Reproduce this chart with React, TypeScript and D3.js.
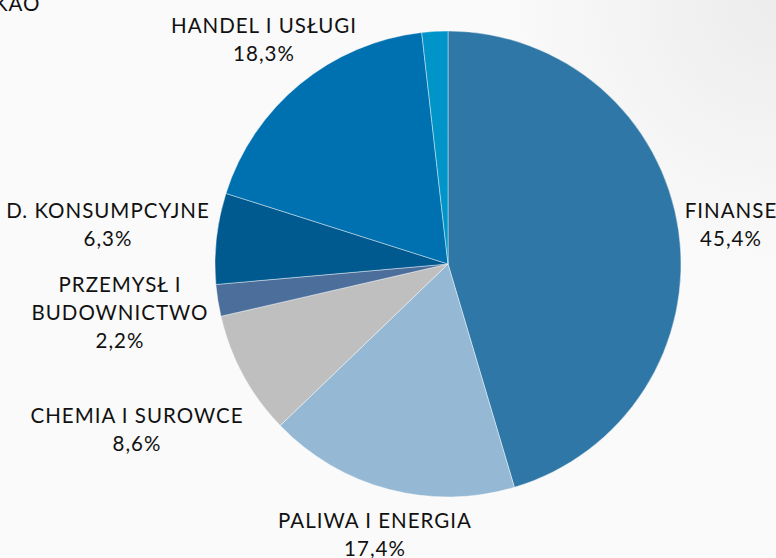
import React from "react";
import * as d3 from "d3";

const categories = ["FINANSE", "PALIWA I ENERGIA", "CHEMIA I SUROWCE", "PRZEMYSŁ I BUDOWNICTWO", "D. KONSUMPCYJNE", "HANDEL I USŁUGI", "INNE"];
const values = [45.4, 17.4, 8.6, 2.2, 6.3, 18.3, 1.8];
const labelLines = [["FINANSE"], ["PALIWA I ENERGIA"], ["CHEMIA I SUROWCE"], ["PRZEMYSŁ I", "BUDOWNICTWO"], ["D. KONSUMPCYJNE"], ["HANDEL I USŁUGI"], []];
const colors = ["#2e77a6", "#95b9d4", "#bfbfbf", "#4b6e9b", "#005a8f", "#0071b0", "#0094c8"];
// label block centers (layout)
const labelCenters: [number, number][] = [[731, 225], [375, 535], [137, 430], [120, 313], [108, 225], [264, 40], [0, 0]];

const W = 776, H = 558;
const cx = 448, cy = 264, R = 233;

export default function App() {
  const pie = d3.pie<number>().sort(null).value((d) => d);
  const arcs = pie(values);
  const arc = d3.arc<d3.PieArcDatum<number>>().innerRadius(0).outerRadius(R);
  const fmt = (v: number) => v.toFixed(1).replace(".", ",") + "%";
  const lh = 28;
  return (
    <svg width={W} height={H} style={{ position: "absolute", left: 0, top: 0 }} fontFamily="Lato, 'Open Sans', sans-serif">
      <defs>
        <radialGradient id="bg" cx="1" cy="0" r="0.35" gradientTransform="scale(1,1.39)">
          <stop offset="0" stopColor="#ececec" />
          <stop offset="1" stopColor="#fafafa" />
        </radialGradient>
      </defs>
      <rect width={W} height={H} fill="#fafafa" />
      <rect width={W} height={H} fill="url(#bg)" />
      <text x={-6} y={11} fontSize={20.5} letterSpacing={1} fill="#111">KAO</text>
      <g transform={`translate(${cx},${cy})`}>
        {arcs.map((a, i) => (
          <path key={categories[i]} d={arc(a) || ""} fill={colors[i]} stroke="#ffffff" strokeOpacity={0.6} strokeWidth={0.7} />
        ))}
      </g>
      {arcs.map((a, i) => {
        const lines = labelLines[i];
        if (!lines.length) return null;
        const all = [...lines, fmt(values[i])];
        const [lx, ly] = labelCenters[i];
        const top = ly - ((all.length - 1) * lh) / 2 + 7;
        return (
          <text key={i} textAnchor="middle" fontSize={20.5} letterSpacing={1} fill="#111">
            {all.map((t, j) => (
              <tspan key={j} x={lx} y={top + j * lh}>{t}</tspan>
            ))}
          </text>
        );
      })}
    </svg>
  );
}
